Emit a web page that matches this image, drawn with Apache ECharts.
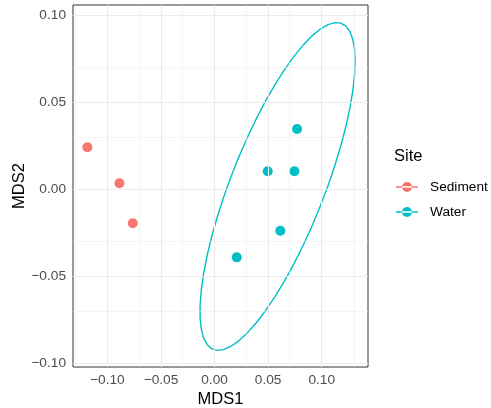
<!DOCTYPE html>
<html>
<head>
<meta charset="utf-8">
<script src="https://cdn.jsdelivr.net/npm/echarts@6/dist/echarts.min.js"></script>
<style>
html,body{margin:0;padding:0;background:#fff;}
#chart{width:491px;height:408px;}
</style>
</head>
<body>
<div id="chart"></div>
<script>
// ---- data ----
const sedimentX = [-0.1187, -0.0888, -0.0763];
const sedimentY = [0.0243, 0.0036, -0.0194];
const waterX = [0.0207, 0.0496, 0.0745, 0.0770, 0.0614];
const waterY = [-0.0390, 0.0105, 0.0105, 0.0348, -0.0237];
const xTicks = [-0.10, -0.05, 0.00, 0.05, 0.10];
const yTicks = [-0.10, -0.05, 0.00, 0.05, 0.10];
const xMinor = [-0.125, -0.075, -0.025, 0.025, 0.075, 0.125];
const yMinor = [-0.075, -0.025, 0.025, 0.075];
const siteNames = ['Sediment', 'Water'];
const siteColors = ['#F8766D', '#00BFC4'];

// ---- stat_ellipse (type "t", level 0.95) as in ggplot2 via MASS::cov.trob ----
function covTrob(xs, ys, nu, maxit, tol) {
  const n = xs.length, p = 2;
  let loc = [xs.reduce((a, b) => a + b, 0) / n, ys.reduce((a, b) => a + b, 0) / n];
  let w = new Array(n).fill(1);
  let X;
  for (let iter = 0; iter < maxit; iter++) {
    const w0 = w.slice();
    X = xs.map((x, i) => [x - loc[0], ys[i] - loc[1]]);
    const sw = w.reduce((a, b) => a + b, 0);
    let a = 0, b = 0, c = 0;
    for (let i = 0; i < n; i++) {
      a += w[i] / sw * X[i][0] * X[i][0];
      b += w[i] / sw * X[i][0] * X[i][1];
      c += w[i] / sw * X[i][1] * X[i][1];
    }
    const det = a * c - b * b;
    const Q = X.map(v => (c * v[0] * v[0] - 2 * b * v[0] * v[1] + a * v[1] * v[1]) / det);
    w = Q.map(q => (nu + p) / (nu + q));
    const sw2 = w.reduce((s, v) => s + v, 0);
    loc = [xs.reduce((s, x, i) => s + w[i] * x, 0) / sw2, ys.reduce((s, y, i) => s + w[i] * y, 0) / sw2];
    if (w.every((v, i) => Math.abs(v - w0[i]) < tol)) break;
  }
  let sxx = 0, sxy = 0, syy = 0;
  for (let i = 0; i < n; i++) {
    sxx += w[i] * X[i][0] * X[i][0];
    sxy += w[i] * X[i][0] * X[i][1];
    syy += w[i] * X[i][1] * X[i][1];
  }
  return { center: loc, cov: [sxx / n, sxy / n, syy / n] };
}
function ellipsePath(xs, ys) {
  const r = covTrob(xs, ys, 5, 25, 0.01);
  const qf = 6.944272; // qf(0.95, 2, n-1) for n = 5
  const radius = Math.sqrt(2 * qf);
  const R11 = Math.sqrt(r.cov[0]);
  const R12 = r.cov[1] / R11;
  const R22 = Math.sqrt(r.cov[2] - R12 * R12);
  const pts = [];
  const segs = 51;
  for (let k = 0; k <= segs; k++) {
    const t = 2 * Math.PI * k / segs;
    pts.push([r.center[0] + radius * Math.cos(t) * R11,
              r.center[1] + radius * (Math.cos(t) * R12 + Math.sin(t) * R22)]);
  }
  return pts;
}

const sedimentData = sedimentX.map((x, i) => [x, sedimentY[i]]);
const waterData = waterX.map((x, i) => [x, waterY[i]]);
const waterEllipse = ellipsePath(waterX, waterY);

const fmt = v => (v < 0 ? '\u2212' : '') + Math.abs(v).toFixed(2);
const gridLines = [];
xTicks.forEach(v => gridLines.push({ xAxis: v, lineStyle: { width: 1.1 } }));
yTicks.forEach(v => gridLines.push({ yAxis: v, lineStyle: { width: 1.1 } }));
xMinor.forEach(v => gridLines.push({ xAxis: v, lineStyle: { width: 0.55 } }));
yMinor.forEach(v => gridLines.push({ yAxis: v, lineStyle: { width: 0.55 } }));

const legendIcon = 'path://M0,4.2 L22,4.2 L22,5.8 L0,5.8 Z M6,5 A5,5 0 1,0 16,5 A5,5 0 1,0 6,5 Z';
const font = 'Liberation Sans, Arial, Helvetica, sans-serif';

const chart = echarts.init(document.getElementById('chart'), null, { renderer: 'canvas' });
chart.setOption({
  animation: false,
  backgroundColor: '#ffffff',
  textStyle: { fontFamily: font },
  title: {
    text: 'Site', left: 389, top: 143,
    textStyle: { fontFamily: font, fontSize: 16.5, fontWeight: 'normal', color: '#000' }
  },
  legend: {
    orient: 'vertical', left: 391, top: 175, itemGap: 11,
    itemWidth: 22, itemHeight: 10,
    data: siteNames.map(n => ({ name: n, icon: legendIcon })),
    textStyle: { fontFamily: font, fontSize: 13.7, color: '#000', padding: [0, 0, 0, 7] }
  },
  grid: {
    left: 73, top: 5, right: 123, bottom: 41, show: true,
    borderColor: '#333333', borderWidth: 1, backgroundColor: '#fff',
    containLabel: false, outerBoundsMode: 'none'
  },
  xAxis: {
    type: 'value', min: -0.1321, max: 0.1432,
    name: 'MDS1', nameLocation: 'middle', nameGap: 24, nameMoveOverlap: false,
    nameTextStyle: { fontFamily: font, fontSize: 16.5, color: '#000' },
    axisLine: { show: false },
    splitLine: { show: false },
    axisTick: { show: true, length: 4, customValues: xTicks, lineStyle: { color: '#333', width: 1 } },
    axisLabel: { customValues: xTicks, formatter: fmt, margin: 6, fontFamily: font, fontSize: 13.7, color: '#4D4D4D' }
  },
  yAxis: {
    type: 'value', min: -0.1020, max: 0.1060,
    name: 'MDS2', nameLocation: 'middle', nameGap: 45, nameMoveOverlap: false,
    nameTextStyle: { fontFamily: font, fontSize: 16.5, color: '#000' },
    axisLine: { show: false },
    splitLine: { show: false },
    axisTick: { show: true, length: 4, customValues: yTicks, lineStyle: { color: '#333', width: 1 } },
    axisLabel: { customValues: yTicks, formatter: fmt, margin: 7, fontFamily: font, fontSize: 13.7, color: '#4D4D4D' }
  },
  series: [
    {
      name: 'gridlines', type: 'line', data: [], z: 0, silent: true,
      markLine: {
        silent: true, symbol: 'none', label: { show: false }, animation: false,
        lineStyle: { color: '#EBEBEB', type: 'solid' },
        emphasis: { disabled: true },
        data: gridLines
      }
    },
    {
      name: 'WaterEllipse', type: 'line', data: waterEllipse, showSymbol: false, symbol: 'none',
      smooth: false, silent: true, z: 2,
      lineStyle: { color: siteColors[1], width: 1.4 }
    },
    {
      name: 'Sediment', type: 'scatter', data: sedimentData, symbolSize: 10, z: 3,
      itemStyle: { color: siteColors[0], opacity: 1 }
    },
    {
      name: 'Water', type: 'scatter', data: waterData, symbolSize: 10, z: 3,
      itemStyle: { color: siteColors[1], opacity: 1 }
    }
  ]
});
</script>
</body>
</html>
